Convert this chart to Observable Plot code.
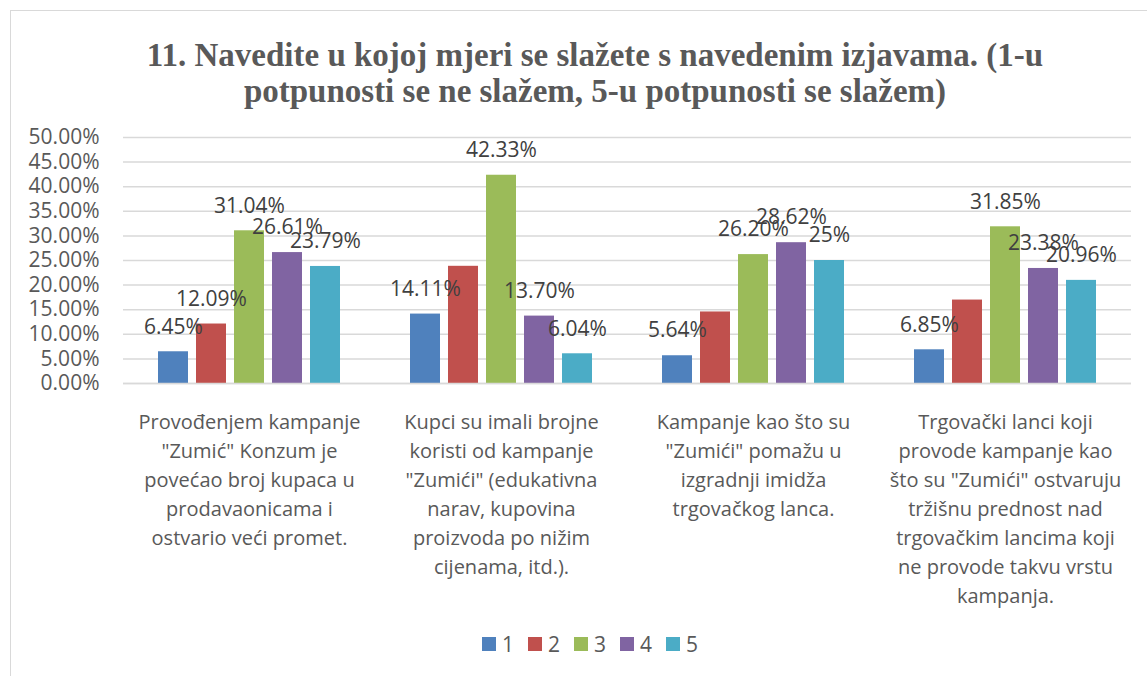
<!DOCTYPE html>
<html><head><meta charset="utf-8">
<script src="https://cdn.jsdelivr.net/npm/d3@7"></script>
<script src="https://cdn.jsdelivr.net/npm/@observablehq/plot@0.6"></script>
<style>
html,body{margin:0;padding:0;background:#fff;overflow:hidden;}
#wrap{position:relative;width:1147px;height:676px;overflow:hidden;}
#frame{position:absolute;left:10px;top:10px;width:1300px;height:800px;border:1.5px solid #d9d9d9;box-sizing:border-box;z-index:5;pointer-events:none;}
#title{position:absolute;left:0;top:37px;width:1190px;text-align:center;font-family:"Liberation Serif","Times New Roman",serif;font-weight:bold;font-size:33px;line-height:36px;color:#595959;}
#chart{position:absolute;left:0;top:120px;}
#legend{position:absolute;left:0;top:630px;width:1180px;display:flex;justify-content:center;}
#legend .lg-swatches{font-family:"Open Sans",sans-serif;font-size:21px;color:#595959;margin:0;}
#legend .lg-swatches-wrap{min-height:28px;}
#legend .lg-swatches-wrap .lg-swatch{margin-right:14px;}
#legend .lg-swatches-wrap .lg-swatch:last-child{margin-right:0;}
#legend .lg-swatch > svg{margin-right:6px;}
</style></head><body>
<div id="wrap"><div id="frame"></div><div id="title"></div><div id="chart"></div><div id="legend"></div></div>
<script>
const titleLines = [
  "11. Navedite u kojoj mjeri se slažete s navedenim izjavama. (1-u",
  "potpunosti se ne slažem, 5-u potpunosti se slažem)"
];
const categories = [
  "Provođenjem kampanje\n\"Zumić\" Konzum je\npovećao broj kupaca u\nprodavaonicama i\nostvario veći promet.",
  "Kupci su imali brojne\nkoristi od kampanje\n\"Zumići\" (edukativna\nnarav, kupovina\nproizvoda po nižim\ncijenama, itd.).",
  "Kampanje kao što su\n\"Zumići\" pomažu u\nizgradnji imidža\ntrgovačkog lanca.",
  "Trgovački lanci koji\nprovode kampanje kao\nšto su \"Zumići\" ostvaruju\ntržišnu prednost nad\ntrgovačkim lancima koji\nne provode takvu vrstu\nkampanja."
];
const series = ["1", "2", "3", "4", "5"];
const colors = ["#4f81bd", "#c0504d", "#9bbb59", "#8064a2", "#4bacc6"];
const values1 = [6.45, 14.11, 5.64, 6.85];
const values2 = [12.09, 23.82, 14.54, 16.96];
const values3 = [31.04, 42.33, 26.20, 31.85];
const values4 = [26.61, 13.70, 28.62, 23.38];
const values5 = [23.79, 6.04, 25, 20.96];
const labels1 = ["6.45%", "14.11%", "5.64%", "6.85%"];
const labels2 = ["12.09%", "", "", ""];
const labels3 = ["31.04%", "42.33%", "26.20%", "31.85%"];
const labels4 = ["26.61%", "13.70%", "28.62%", "23.38%"];
const labels5 = ["23.79%", "6.04%", "25%", "20.96%"];
const yTicks = [0, 5, 10, 15, 20, 25, 30, 35, 40, 45, 50];

const allValues = [values1, values2, values3, values4, values5];
const allLabels = [labels1, labels2, labels3, labels4, labels5];
const data = [];
allValues.forEach((vals, si) => vals.forEach((v, ci) => data.push({cat: categories[ci], s: series[si], v, label: allLabels[si][ci]})));

document.getElementById("title").innerHTML = titleLines.map(t => `<div>${t}</div>`).join("");

const plot = Plot.plot({
  width: 1147, height: 505,
  marginTop: 17, marginBottom: 242, marginLeft: 122, marginRight: 15,
  style: {fontFamily: '"Open Sans", sans-serif', color: "#595959", background: "transparent"},
  fx: {domain: categories, padding: 0, axis: null},
  x: {domain: series, paddingInner: 0.205, paddingOuter: 0.84, axis: null},
  y: {domain: [0, 50], axis: null},
  color: {domain: series, range: colors},
  marks: [
    Plot.gridY(yTicks, {stroke: "#d9d9d9", strokeOpacity: 1, strokeWidth: 1.5}),
    Plot.axisY(yTicks, {tickSize: 0, tickPadding: 24, label: null, tickFormat: d => d.toFixed(2) + "%", fontSize: 21, fill: "#595959"}),
    Plot.barY(data, {fx: "cat", x: "s", y: "v", fill: "s"}),
    Plot.ruleY([0], {stroke: "#d9d9d9", strokeWidth: 1.5}),
    Plot.text(data, {fx: "cat", x: "s", y: "v", text: "label", dy: -25, fontSize: 21, fill: "#404040"}),
    Plot.text(categories, {fx: d => d, text: d => d, frameAnchor: "bottom", lineAnchor: "top", dy: 25, fontSize: 20, lineHeight: 1.45, fill: "#595959"})
  ]
});
document.getElementById("chart").appendChild(plot);
const legend = plot.legend("color", {className: "lg", swatchSize: 14});
document.getElementById("legend").appendChild(legend);
</script>
</body></html>
